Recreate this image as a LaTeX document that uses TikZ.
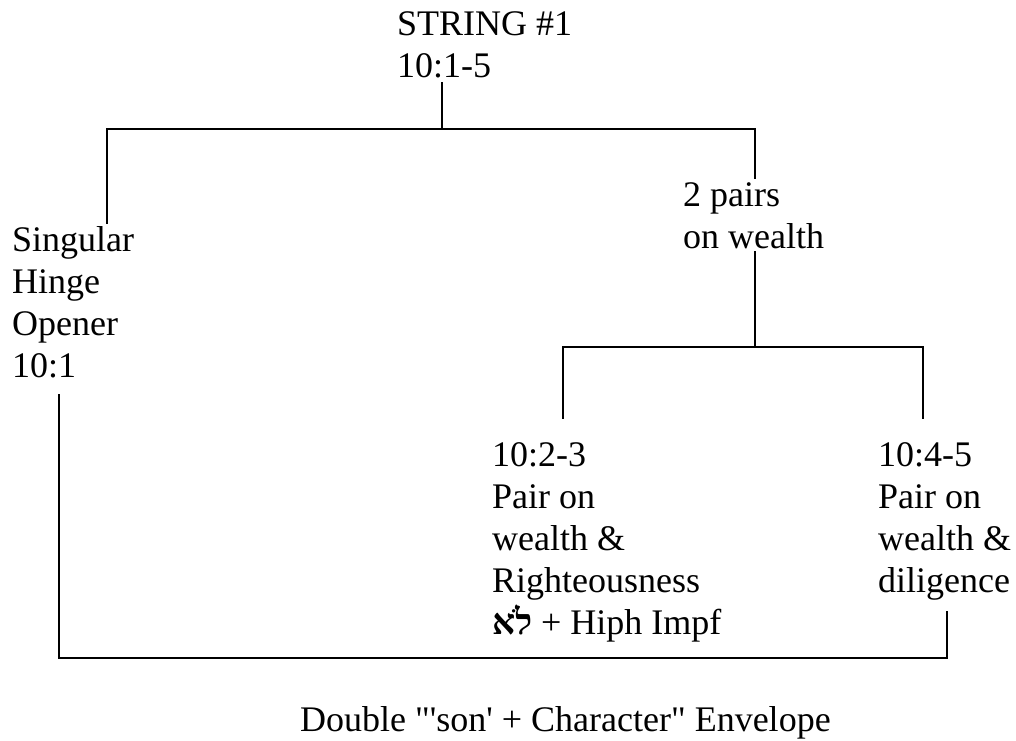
\documentclass[tikz,border=0pt]{standalone}
\usepackage{fontspec}
\setmainfont{Liberation Serif}[Ligatures=TeXOff]
\newfontfamily\hebfont[Script=Hebrew]{Liberation Serif}
\TeXXeTstate=1
\begin{document}
\begin{tikzpicture}[x=1pt,y=-1pt,
  lbl/.style={anchor=base west, inner sep=0pt, align=left, font=\fontsize{36}{42}\selectfont},
  conn/.style={line width=2pt, line cap=rect}]
\useasboundingbox (0,0) rectangle (1016,740);
% nodes (anchor = baseline of last line)
\node[lbl] (top) at (397,77) {STRING \#1\\10:1-5};
\node[lbl] (sing) at (12,377) {Singular\\Hinge\\Opener\\10:1};
\node[lbl] (pairs) at (683,248) {2 pairs\\on wealth};
\node[lbl] (p23) at (492,634) {10:2-3\\Pair on\\wealth \&\\Righteousness\\{\bfseries\hebfont\beginR לֹא\endR} + Hiph Impf};
\node[lbl] (p45) at (878,592) {10:4-5\\Pair on\\wealth \&\\diligence};
\node[lbl] (env) at (300,731) {Double "'son' + Character" Envelope};
% connector points
\coordinate (topb) at (442,83);
\coordinate (topj) at (442,129);
\coordinate (singt) at (107,223);
\coordinate (pairst) at (755,178);
\coordinate (pairsb) at (755,252);
\coordinate (pairsj) at (755,347);
\coordinate (p23t) at (563,418);
\coordinate (p45t) at (923,418);
\coordinate (singb) at (59,395);
\coordinate (p45b) at (947,612);
\coordinate (envy) at (0,658);
% connectors
\draw[conn] (topb) -- (topj);
\draw[conn] (singt) |- (topj) -| (pairst);
\draw[conn] (pairsb) -- (pairsj);
\draw[conn] (p23t) |- (pairsj) -| (p45t);
\draw[conn] (singb) -- (singb |- envy) -- (p45b |- envy) -- (p45b);
\end{tikzpicture}
\end{document}
